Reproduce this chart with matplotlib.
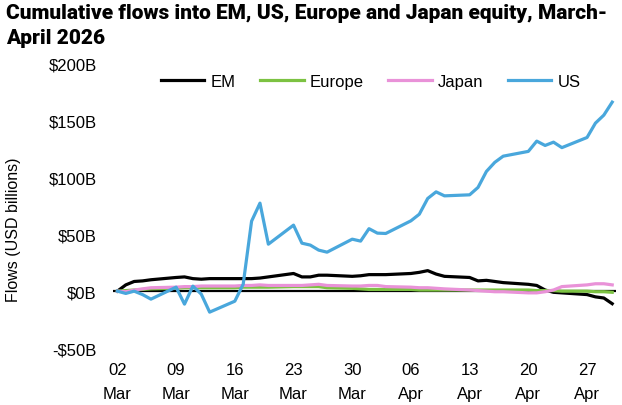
import matplotlib
matplotlib.use("Agg")
import matplotlib.pyplot as plt
import matplotlib.dates as mdates
import pandas as pd

# business days, 2 Mar - 30 Apr 2026
dates = pd.bdate_range("2026-03-02", "2026-04-30")

em = [0, 5.5, 8.5, 9, 10, 12, 12.5, 11, 10.5, 11,
      11, 11, 11, 11.5, 12.5, 15.5, 12.5, 12.5, 14, 14,
      13, 13.5, 14.5, 14.5, 14.5, 15.5, 16.5, 18, 15, 13,
      12, 9, 9.5, 8.5, 7.5, 6, 5, 1, -1, -1.5,
      -3, -5, -6, -11]
europe = [0, 0.5, 1, 1.5, 2, 2.5, 3, 3, 3, 3,
          3, 3.5, 3.5, 3.5, 3.5, 4, 4, 4, 4, 3,
          2.5, 2, 1.5, 1.5, 1.5, 1.5, 1, 1, 1, 1,
          1, 1, 1, 1, 1, 1, 0.5, 0.5, 0.5, 0,
          0, -0.5, -0.5, -1]
japan = [0, -0.5, 1, 2, 3, 3.5, 4, 4, 4.5, 4.5,
         4.5, 5, 5, 5.5, 5, 5, 5, 5.5, 6, 5,
         4.5, 4.5, 5, 5, 4, 3.5, 3, 3, 2.5, 2,
         1, 0.5, 0, -0.5, -0.5, -1.5, -1.5, -0.5, 1, 4,
         5.5, 6.5, 6.5, 5.5]
us = [0, -2, 0, -3, -7, 3.5, -11.4, 4.4, -2.6, -18.4,
      -8.8, 6.1, 61.4, 77.2, 41.2, 57.9, 42.1, 40.4, 36, 34.2,
      45.6, 43.9, 54.8, 50.9, 50.6, 61.7, 67.5, 81.3, 87.1, 83.6,
      84.5, 91, 105, 113, 118.4, 122.6, 131.6, 127.8, 130.7, 125.9,
      134.8, 147.4, 154.4, 165.8]

series = [("EM", em, "#000000"),
          ("Europe", europe, "#7cc242"),
          ("Japan", japan, "#e992d8"),
          ("US", us, "#49a7dc")]

plt.rcParams["font.family"] = ["Liberation Sans", "DejaVu Sans"]

fig = plt.figure(figsize=(6.22, 4.06), dpi=100)
ax = fig.add_axes([0.182, 0.140, 0.809, 0.702])

ax.axhline(0, color="black", lw=1.6, zorder=1)
for name, vals, col in series:
    ax.plot(dates, vals, color=col, lw=2.3, label=name, solid_joinstyle="round")

ax.set_xlim(dates[0] - pd.Timedelta(hours=12), dates[-1] + pd.Timedelta(hours=12))
ax.set_ylim(-50, 200)
ax.set_yticks([-50, 0, 50, 100, 150, 200])
ax.set_yticklabels(["-$50B", "$0B", "$50B", "$100B", "$150B", "$200B"])
ax.xaxis.set_major_locator(mdates.WeekdayLocator(byweekday=mdates.MO))
ax.xaxis.set_major_formatter(mdates.DateFormatter("%d\n%b"))

ax.tick_params(axis="both", length=0, labelsize=12)
ax.tick_params(axis="y", pad=12)
ax.tick_params(axis="x", pad=10)
for s in ax.spines.values():
    s.set_visible(False)

fig.text(0.022, 0.435, "Flows (USD billions)", rotation=90, ha="center", va="center", fontsize=11.5)
fig.text(0.01, 0.99, "Cumulative flows into EM, US, Europe and Japan equity, March-\nApril 2026",
         ha="left", va="top", fontsize=15, fontweight=900, family="Roboto", linespacing=1.4)

fig.legend(loc="center", bbox_to_anchor=(0.596, 0.796), ncol=4, frameon=False,
           fontsize=12, handlelength=2.6, handletextpad=0.35, columnspacing=1.5)

fig.canvas.draw()
for lab in ax.get_xticklabels():
    lab.set_linespacing(1.75)

fig.savefig("out.png", dpi=100)
